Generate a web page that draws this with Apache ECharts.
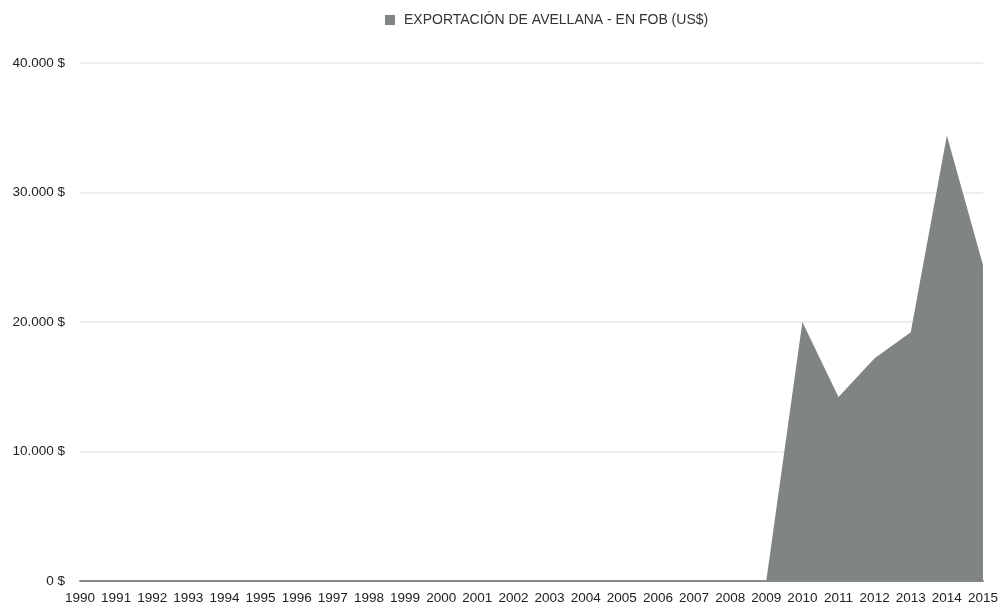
<!DOCTYPE html>
<html>
<head>
<meta charset="utf-8">
<script src="https://cdn.jsdelivr.net/npm/echarts@6/dist/echarts.min.js"></script>
<style>
  html, body { margin: 0; padding: 0; background: #fff; }
  #chart { width: 1001px; height: 608px; }
</style>
</head>
<body>
<div id="chart"></div>
<script>
// Hazelnut exports, FOB value in US$
const years = ['1990','1991','1992','1993','1994','1995','1996','1997','1998','1999',
  '2000','2001','2002','2003','2004','2005','2006','2007','2008','2009',
  '2010','2011','2012','2013','2014','2015'];
const exportFob = [0,0,0,0,0,0,0,0,0,0,
  0,0,0,0,0,0,0,0,0,0,
  20000,14200,17200,19200,34400,24400];
const yTicks = [0, 10000, 20000, 30000, 40000];
const seriesName = 'EXPORTACIÓN DE AVELLANA - EN FOB (US$)';

const fmt = v => v.toString().replace(/\B(?=(\d{3})+(?!\d))/g, '.') + ' $';

const chart = echarts.init(document.getElementById('chart'));
chart.setOption({
  animation: false,
  textStyle: { fontFamily: 'Liberation Sans, Arial, sans-serif' },
  legend: {
    top: 8,
    left: 380,
    itemWidth: 10,
    itemHeight: 10,
    icon: 'rect',
    itemGap: 10,
    textStyle: { fontSize: 14, color: '#333', padding: [0, 0, 0, 4] },
    data: [seriesName]
  },
  grid: { left: 80, right: 18, top: 63, bottom: 27, containLabel: false },
  xAxis: {
    type: 'category',
    data: years,
    boundaryGap: false,
    axisLine: { show: true, lineStyle: { color: '#8a8a8a', width: 2 } },
    axisTick: { show: false },
    axisLabel: { fontSize: 13.5, color: '#222', margin: 10, interval: 0 }
  },
  yAxis: {
    type: 'value',
    min: yTicks[0],
    max: yTicks[yTicks.length - 1],
    interval: 10000,
    axisLine: { show: false },
    axisTick: { show: false },
    splitLine: { lineStyle: { color: '#e9e9e9', width: 1.5 } },
    axisLabel: { fontSize: 13.5, color: '#222', margin: 15, formatter: fmt }
  },
  series: [{
    name: seriesName,
    type: 'line',
    data: exportFob,
    symbol: 'none',
    lineStyle: { width: 0 },
    itemStyle: { color: '#808582' },
    areaStyle: { color: '#808582', opacity: 1 }
  }]
});
</script>
</body>
</html>
